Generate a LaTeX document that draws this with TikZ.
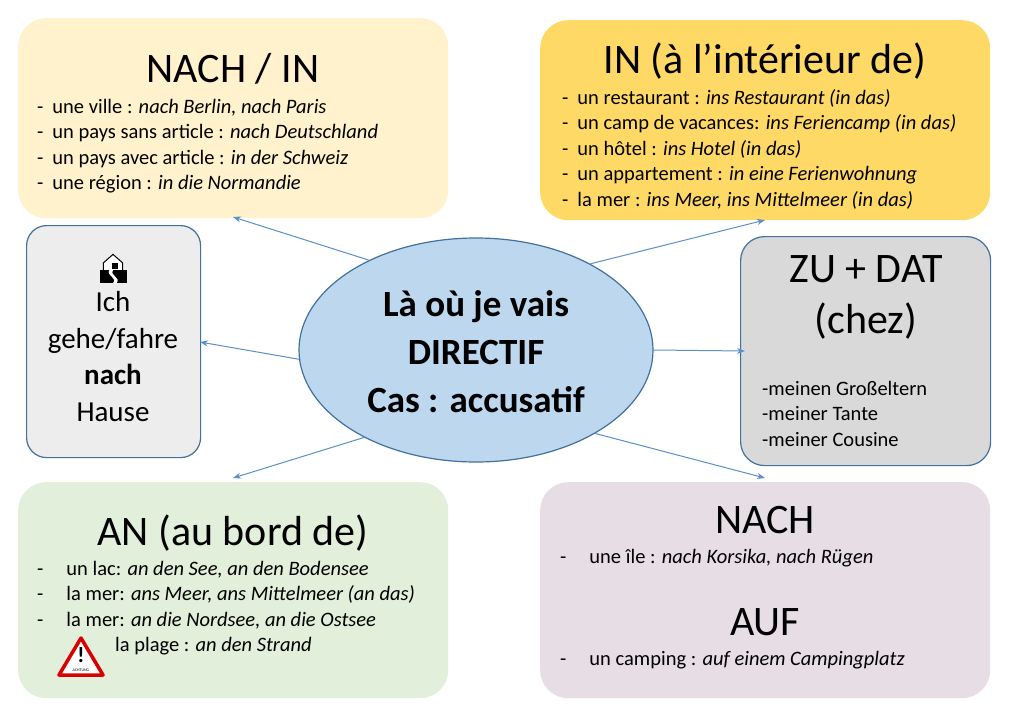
\documentclass[tikz,border=0pt]{standalone}
\usepackage{fontspec}
\setmainfont{Carlito}
\usetikzlibrary{shapes.geometric,arrows.meta}
\definecolor{bd}{HTML}{41719C}
\definecolor{ar}{HTML}{5B8FC7}
\tikzset{
 box/.style={rounded corners=28pt,draw=none,anchor=north west,inner sep=0pt},
 bbox/.style={box,draw=bd,line width=1.2pt},
 ttl/.style={font=\fontsize{42}{46}\selectfont,anchor=base},
 li/.style={font=\fontsize{20.5}{25.5}\selectfont,anchor=north west,align=left,inner sep=0pt},
 conn/.style={draw=ar,line width=1pt,-{Stealth[length=8pt,width=6pt]}}
}
\begin{document}
\begin{tikzpicture}[x=1pt,y=-1pt]
\useasboundingbox (0,0) rectangle (1024,709);
\fill[white] (0,0) rectangle (1024,709);
% boxes
\node[box,fill={rgb,255:red,255;green,242;blue,204},minimum width=430pt,minimum height=200pt] (b1) at (18,18) {};
\node[box,fill={rgb,255:red,255;green,217;blue,102},minimum width=450pt,minimum height=200pt] (b2) at (540,20) {};
\node[bbox,rounded corners=20pt,fill={rgb,255:red,237;green,237;blue,237},minimum width=174pt,minimum height=232pt] (b3) at (26,225) {};
\node[bbox,rounded corners=24pt,fill={rgb,255:red,217;green,217;blue,217},minimum width=250pt,minimum height=229pt] (b4) at (740,236) {};
\node[box,fill={rgb,255:red,226;green,239;blue,218},minimum width=430pt,minimum height=216pt] (b5) at (18,482) {};
\node[box,fill={rgb,255:red,231;green,222;blue,229},minimum width=450pt,minimum height=216pt] (b6) at (540,482) {};
\node[ellipse,draw=bd,line width=1.2pt,fill={rgb,255:red,189;green,215;blue,238},minimum width=354pt,minimum height=224pt,inner sep=0pt] (el) at (476,350) {};
\node[font=\fontsize{37}{48}\selectfont\bfseries,align=center] (elt) at (476,352) {Là où je vais\\DIRECTIF\\Cas : accusatif};
% box 1
\node[ttl] (t1) at (233,82) {NACH / IN};
\node[li] (l1) at (37,99) {-\hspace{9pt}une ville : \textit{nach Berlin, nach Paris}\\
-\hspace{9pt}un pays sans article : \textit{nach Deutschland}\\
-\hspace{9pt}un pays avec article : \textit{in der Schweiz}\\
-\hspace{9pt}une région : \textit{in die Normandie}};
% box 2
\node[ttl] (t2) at (765,74) {IN (à l’intérieur de)};
\node[li] (l2) at (562,89) {-\hspace{9pt}un restaurant : \textit{ins Restaurant (in das)}\\
-\hspace{9pt}un camp de vacances: \textit{ins Feriencamp (in das)}\\
-\hspace{9pt}un hôtel : \textit{ins Hotel (in das)}\\
-\hspace{9pt}un appartement : \textit{in eine Ferienwohnung}\\
-\hspace{9pt}la mer : \textit{ins Meer, ins Mittelmeer (in das)}};
% box 3
\begin{scope}[shift={(113,270)},scale=1.2]
\draw[line width=1pt,fill=white] (-8,0) -- (-8,-6) -- (0,-13) -- (8,-6) -- (8,0);
\fill (-1,-6) rectangle (4,-1);
\fill (-11,0) -- (12,0) -- (12,11) -- (-11,11) -- cycle;
\fill[white] (-3,0) .. controls (-6,5) and (4,6) .. (0,11) -- (3,11) .. controls (7,6) and (-3,5) .. (0,0) -- cycle;
\end{scope}
\node[font=\fontsize{29}{36.5}\selectfont,align=center,anchor=north] (t3) at (113,288) {Ich\\gehe/fahre\\\textbf{nach}\\Hause};
% box 4
\node[font=\fontsize{42}{51}\selectfont,align=center,anchor=north] (t4) at (866,252) {ZU + DAT\\(chez)};
\node[li] (l4) at (762,381) {-meinen Großeltern\\-meiner Tante\\-meiner Cousine};
% box 5
\node[ttl] (t5) at (233,545) {AN (au bord de)};
\node[li] (l5) at (37,561) {-\hspace{23pt}un lac: \textit{an den See, an den Bodensee}\\
-\hspace{23pt}la mer: \textit{ans Meer, ans Mittelmeer (an das)}\\
-\hspace{23pt}la mer: \textit{an die Nordsee, an die Ostsee}\\
\hspace{78pt}la plage : \textit{an den Strand}};
\begin{scope}[shift={(81,659)}]
\draw[red!85!black,line width=3.5pt,line join=round,fill=white] (-22,16) -- (0,-21) -- (22,16) -- cycle;
\node[font=\fontsize{22}{22}\selectfont\bfseries,inner sep=0pt] (ex) at (0,-4) {!};
\node[font=\fontsize{4}{4}\selectfont,inner sep=0pt] (ach) at (0,11) {ACHTUNG};
\end{scope}
% box 6
\node[ttl] (t6) at (765,533) {NACH};
\node[li] (l6) at (560,549) {-\hspace{23pt}une île : \textit{nach Korsika, nach Rügen}};
\node[ttl] (t7) at (765,635) {AUF};
\node[li] (l7) at (560,651) {-\hspace{23pt}un camping : \textit{auf einem Campingplatz}};
% arrows
\coordinate (a1) at (233,217);
\coordinate (a2) at (765,220);
\coordinate (a3) at (200,342);
\coordinate (a4) at (745,351);
\coordinate (a5) at (233,478);
\coordinate (a6) at (765,478);
\draw[conn] (el.140) -- (a1);
\draw[conn] (el.37) -- (a2);
\draw[conn] (el.183) -- (a3);
\draw[conn] (el.0) -- (a4);
\draw[conn] (el.218) -- (a5);
\draw[conn] (el.-35) -- (a6);
\end{tikzpicture}
\end{document}
